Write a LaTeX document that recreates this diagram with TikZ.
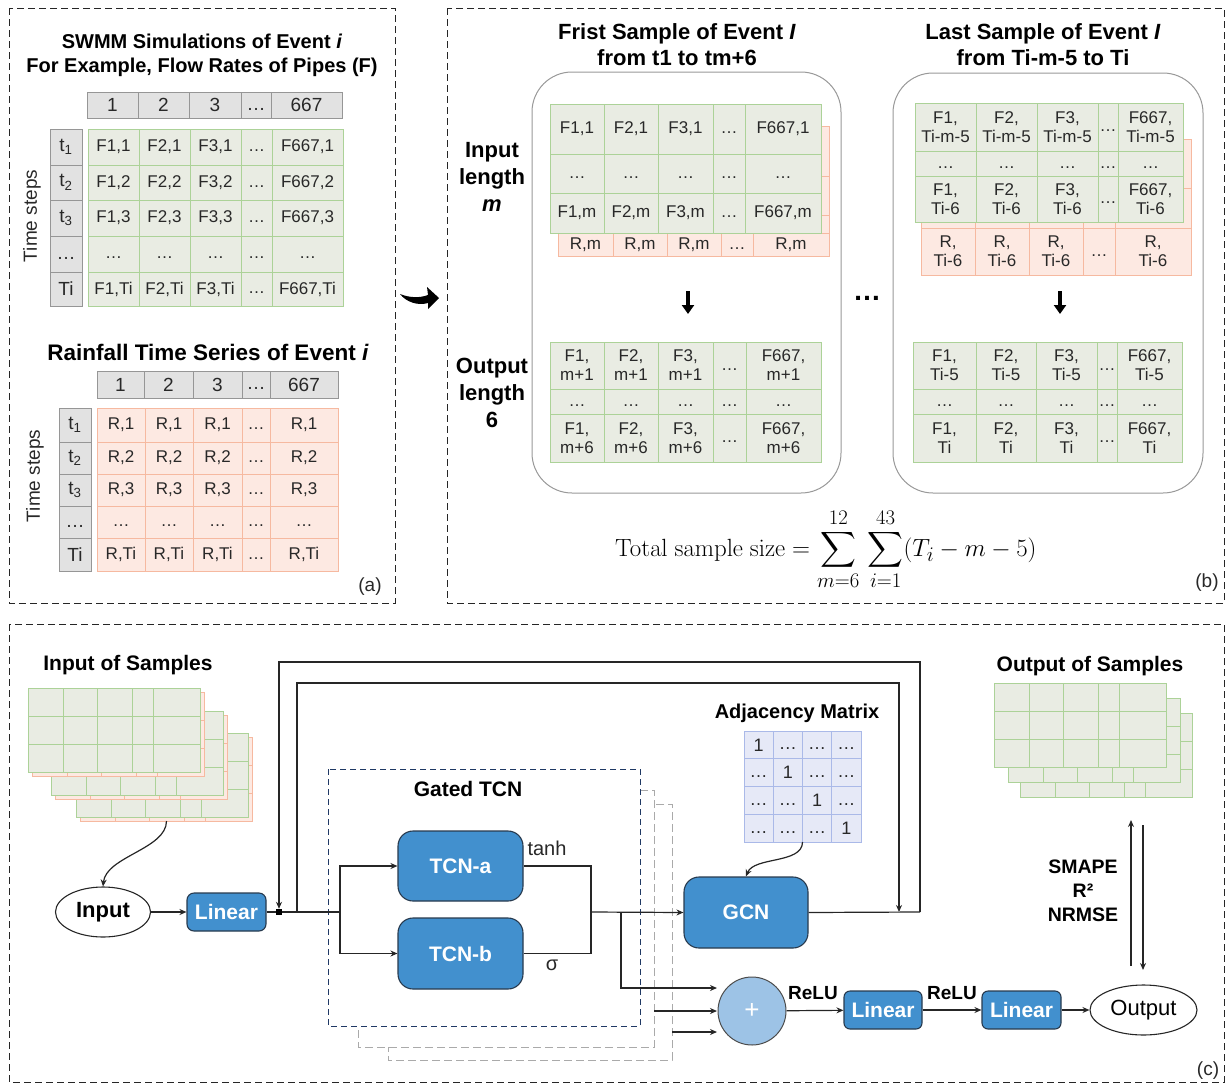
\documentclass[tikz,border=0pt]{standalone}
\usepackage{exscale}
\usepackage[no-math]{fontspec}
\setmainfont{Liberation Sans}
\usetikzlibrary{arrows.meta,shapes.geometric,calc}

\definecolor{gfill}{RGB}{233,236,227}
\definecolor{gbord}{RGB}{172,210,152}
\definecolor{rfill}{RGB}{253,233,226}
\definecolor{rbord}{RGB}{246,185,160}
\definecolor{hfill}{RGB}{226,226,226}
\definecolor{hbord}{RGB}{150,150,150}
\definecolor{bfill}{RGB}{66,144,206}
\definecolor{bbord}{RGB}{40,58,78}
\definecolor{pfill}{RGB}{157,195,230}
\definecolor{afill}{RGB}{230,233,247}
\definecolor{abord}{RGB}{170,185,232}
\definecolor{navy}{RGB}{31,56,100}
\definecolor{ghost}{RGB}{170,170,170}
\definecolor{txt}{RGB}{40,40,40}

\newcommand\fsz[2]{\fontsize{#1}{#2}\selectfont}
% ellipsis sitting on the text baseline
\newcommand\dd{\vphantom{F,}…}

% one row of table cells: name, style, top y, bottom y, list of xa/xb/text
\newcommand\cellrow[5]{%
  \foreach \xa/\xb/\tx [count=\ci] in {#5}{%
    \node[#2, anchor=north west, minimum width={(\xb-\xa)*1pt},
          minimum height={(#4-#3)*1pt}] (#1-\ci) at (\xa,#3) {\tx};
  }%
}
% one column of table cells: name, style, left x, right x, list of ya/yb/text
\newcommand\cellcol[5]{%
  \foreach \ya/\yb/\tx [count=\ri] in {#5}{%
    \node[#2, anchor=north west, minimum width={(#4-#3)*1pt},
          minimum height={(\yb-\ya)*1pt}] (#1-\ri) at (#3,\ya) {\tx};
  }%
}
% an empty 3x5 sample grid: name, style, x, y
\newcommand\stacktab[4]{%
  \foreach \dx/\w [count=\ci] in {0/35,35/34,69/35,104/21,125/47}{%
    \foreach \dy [count=\ri] in {0,28,56}{%
      \node[#2, anchor=north west, minimum width=\w, minimum height=28]
        (#1-\ri-\ci) at ({#3+\dx},{#4+\dy}) {};
    }}%
}

\tikzset{
  cellbase/.style={inner sep=0pt, outer sep=0pt, line width=0.9pt, align=center,
                   text=txt, font=\fsz{17}{19}},
  gcell/.style={cellbase, draw=gbord, fill=gfill},
  rcell/.style={cellbase, draw=rbord, fill=rfill},
  hcell/.style={cellbase, draw=hbord, fill=hfill, font=\fsz{19}{21}},
  acell/.style={cellbase, draw=abord, fill=afill, font=\fsz{18}{20}},
  blk/.style={draw=bbord, fill=bfill, line width=1.1pt, text=white,
              font=\bfseries\fsz{21}{24}, inner sep=0pt},
  ttl/.style={font=\bfseries\fsz{20}{24}, align=center, text=black},
  lbl/.style={font=\fsz{19}{22}, text=txt},
  conn/.style={line width=1.2pt, draw=black!85},
  arr/.style={conn, -{Stealth[length=7pt,width=6pt]}},
  panel/.style={draw=black!85, line width=1pt, dash pattern=on 7pt off 4pt},
  samplebox/.style={draw=black!40, line width=1pt, rounded corners=40pt, fill=white},
  gatebox/.style={draw=navy, line width=1pt, dash pattern=on 6pt off 4pt, fill=white},
  ghostbox/.style={draw=ghost, line width=1pt, dash pattern=on 8pt off 4pt, fill=white},
  fatarrow/.style={line width=3.5pt, -{Triangle[length=9pt,width=12pt]}},
}

\begin{document}
\begin{tikzpicture}[x=1pt,y=-1pt]
\useasboundingbox (0,0) rectangle (1229,1084);

%% ---------------- panel (a) ----------------
\draw[panel] (9,8) rectangle (395,603);
\node[ttl] (ta1) at (202,55) {SWMM Simulations of Event \textit{i}\\For Example, Flow Rates of Pipes (F)};

\cellrow{ah}{hcell}{92}{118}{87/138/1,138/189/2,189/241/3,241/271/\dd,271/342/667}
\cellcol{at}{hcell}{50}{82}{129/165/t\textsubscript{1},165/200/t\textsubscript{2},200/236/t\textsubscript{3},236/272/\dd,272/306/Ti}
\cellrow{af1}{gcell}{129}{165}{88/139/{F1,1},139/190/{F2,1},190/241/{F3,1},241/272/\dd,272/343/{F667,1}}
\cellrow{af2}{gcell}{165}{200}{88/139/{F1,2},139/190/{F2,2},190/241/{F3,2},241/272/\dd,272/343/{F667,2}}
\cellrow{af3}{gcell}{200}{236}{88/139/{F1,3},139/190/{F2,3},190/241/{F3,3},241/272/\dd,272/343/{F667,3}}
\cellrow{af4}{gcell}{236}{272}{88/139/\dd,139/190/\dd,190/241/\dd,241/272/\dd,272/343/\dd}
\cellrow{af5}{gcell}{272}{306}{88/139/{F1,Ti},139/190/{F2,Ti},190/241/{F3,Ti},241/272/\dd,272/343/{F667,Ti}}
\node[lbl, rotate=90] (tsa) at (32,216) {Time steps};

\node[ttl, font=\bfseries\fsz{22.5}{26}] (ta2) at (208,352) {Rainfall Time Series of Event \textit{i}};
\cellrow{bh}{hcell}{371}{398}{97/144/1,144/193/2,193/242/3,242/270/\dd,270/338/667}
\cellcol{bt}{hcell}{59}{91}{408/442/t\textsubscript{1},442/474/t\textsubscript{2},474/506/t\textsubscript{3},506/538/\dd,538/571/Ti}
\cellrow{ar1}{rcell}{408}{442}{97/145/{R,1},145/193/{R,1},193/242/{R,1},242/270/\dd,270/338/{R,1}}
\cellrow{ar2}{rcell}{442}{474}{97/145/{R,2},145/193/{R,2},193/242/{R,2},242/270/\dd,270/338/{R,2}}
\cellrow{ar3}{rcell}{474}{506}{97/145/{R,3},145/193/{R,3},193/242/{R,3},242/270/\dd,270/338/{R,3}}
\cellrow{ar4}{rcell}{506}{538}{97/145/\dd,145/193/\dd,193/242/\dd,242/270/\dd,270/338/\dd}
\cellrow{ar5}{rcell}{538}{571}{97/145/{R,Ti},145/193/{R,Ti},193/242/{R,Ti},242/270/\dd,270/338/{R,Ti}}
\node[lbl, rotate=90] (tsb) at (35,476) {Time steps};
\node[lbl] (la) at (370,587) {(a)};

% arrow from (a) to (b)
\fill[black] (400,294) .. controls (410,298) and (420,298) .. (428,295)
  -- (427,287) -- (439,298) -- (428,309) -- (428,303)
  .. controls (418,306) and (406,302) .. (400,294) -- cycle;

%% ---------------- panel (b) ----------------
\draw[panel] (447,8) rectangle (1224,603);

% first sample
\node[ttl, font=\bfseries\fsz{22}{26}] (tb1) at (677,45) {Frist Sample of Event \textit{I}\\from t1 to tm+6};
\draw[samplebox] (532,72) rectangle (841,493);
\node[ttl, font=\bfseries\fsz{22}{27}] (inlen) at (492,177) {Input\\length\\\textit{m}};
\node[ttl, font=\bfseries\fsz{22}{27}] (outlen) at (492,393) {Output\\length\\6};

\cellrow{s1r1}{rcell}{126}{176}{558/613/{},613/667/{},667/721/{},721/753/{},753/829/{}}
\cellrow{s1r2}{rcell}{176}{215}{558/613/{},613/667/{},667/721/{},721/753/{},753/829/{}}
\cellrow{s1r3}{rcell}{215}{233}{558/613/{},613/667/{},667/721/{},721/753/{},753/829/{}}
\cellrow{s1r4}{rcell}{233}{256}{558/613/{R,m},613/667/{R,m},667/721/{R,m},721/753/\dd,753/829/{R,m}}
\cellrow{s1g1}{gcell}{104}{154}{550/604/{F1,1},604/658/{F2,1},658/713/{F3,1},713/745/\dd,745/821/{F667,1}}
\cellrow{s1g2}{gcell}{154}{193}{550/604/\dd,604/658/\dd,658/713/\dd,713/745/\dd,745/821/\dd}
\cellrow{s1g3}{gcell}{193}{233}{550/604/{F1,m},604/658/{F2,m},658/713/{F3,m},713/745/\dd,745/821/{F667,m}}

\coordinate (d1a) at (688,291);
\coordinate (d1b) at (688,314);
\draw[fatarrow] (d1a) -- (d1b);

\cellrow{s1o1}{gcell}{342}{389}{550/604/{F1,\\m+1},604/658/{F2,\\m+1},658/713/{F3,\\m+1},713/746/\dd,746/821/{F667,\\m+1}}
\cellrow{s1o2}{gcell}{389}{414}{550/604/\dd,604/658/\dd,658/713/\dd,713/746/\dd,746/821/\dd}
\cellrow{s1o3}{gcell}{414}{462}{550/604/{F1,\\m+6},604/658/{F2,\\m+6},658/713/{F3,\\m+6},713/746/\dd,746/821/{F667,\\m+6}}

\node[font=\bfseries\fsz{28}{28}] (gapdots) at (867,298) {…};

% last sample
\node[ttl, font=\bfseries\fsz{22}{26}] (tb2) at (1043,45) {Last Sample of Event \textit{I}\\from Ti-m-5 to Ti};
\draw[samplebox] (893,73) rectangle (1203,493);

\cellrow{s2r1}{rcell}{139}{188}{921/975/{},975/1029/{},1029/1083/{},1083/1115/{},1115/1191/{}}
\cellrow{s2r2}{rcell}{188}{228}{921/975/{},975/1029/{},1029/1083/{},1083/1115/{},1115/1191/{}}
\cellrow{s2r3}{rcell}{228}{275}{921/975/{R,\\Ti-6},975/1029/{R,\\Ti-6},1029/1083/{R,\\Ti-6},1083/1115/\dd,1115/1191/{R,\\Ti-6}}
\cellrow{s2g1}{gcell}{103}{151}{915/976/{F1,\\Ti-m-5},976/1037/{F2,\\Ti-m-5},1037/1098/{F3,\\Ti-m-5},1098/1118/\dd,1118/1183/{F667,\\Ti-m-5}}
\cellrow{s2g2}{gcell}{151}{176}{915/976/\dd,976/1037/\dd,1037/1098/\dd,1098/1118/\dd,1118/1183/\dd}
\cellrow{s2g3}{gcell}{176}{222}{915/976/{F1,\\Ti-6},976/1037/{F2,\\Ti-6},1037/1098/{F3,\\Ti-6},1098/1118/\dd,1118/1183/{F667,\\Ti-6}}

\coordinate (d2a) at (1060,291);
\coordinate (d2b) at (1060,314);
\draw[fatarrow] (d2a) -- (d2b);

\cellrow{s2o1}{gcell}{342}{389}{913/976/{F1,\\Ti-5},976/1036/{F2,\\Ti-5},1036/1097/{F3,\\Ti-5},1097/1117/\dd,1117/1182/{F667,\\Ti-5}}
\cellrow{s2o2}{gcell}{389}{414}{913/976/\dd,976/1036/\dd,1036/1097/\dd,1097/1117/\dd,1117/1182/\dd}
\cellrow{s2o3}{gcell}{414}{462}{913/976/{F1,\\Ti},976/1036/{F2,\\Ti},1036/1097/{F3,\\Ti},1097/1117/\dd,1117/1182/{F667,\\Ti}}

\node[anchor=base west, inner sep=0pt, font=\fsz{24.88}{30}] (fml) at (615,556)
  {$\displaystyle\mathrm{Total\ sample\ size}=\sum_{m=6}^{12}\,\sum_{i=1}^{43}(T_i-m-5)$};
\node[lbl] (lb) at (1207,583) {(b)};

%% ---------------- panel (c) ----------------
\draw[panel] (9,624) rectangle (1224,1082);
\node[ttl, font=\bfseries\fsz{21}{24}] (tin) at (128,665) {Input of Samples};
\stacktab{ir3}{rcell}{80}{737}
\stacktab{ig3}{gcell}{76}{733}
\stacktab{ir2}{rcell}{55}{715}
\stacktab{ig2}{gcell}{51}{711}
\stacktab{ir1}{rcell}{32}{692}
\stacktab{ig1}{gcell}{28}{688}

\node[ttl, font=\bfseries\fsz{21}{24}] (tout) at (1090,666) {Output of Samples};
\stacktab{og3}{gcell}{1020}{713}
\stacktab{og2}{gcell}{1008}{698}
\stacktab{og1}{gcell}{994}{683}

% gated TCN block and its stacked copies
\draw[ghostbox] (388,804) rectangle (672,1060);
\draw[ghostbox] (358,790) rectangle (654,1047);
\draw[gatebox] (328,769) rectangle (640,1026);
\node[ttl, font=\bfseries\fsz{21}{24}] (tgate) at (468,789) {Gated TCN};

\node[ellipse, draw=black!85, line width=1.1pt, minimum width=95, minimum height=50,
      font=\bfseries\fsz{22}{24}] (in) at (103,912) {Input};
\node[blk, minimum width=79, minimum height=38, rounded corners=7pt] (lin1) at (226.5,912) {Linear};
\node[fill=black, inner sep=0pt, minimum size=6pt] (jn) at (279,912) {};
\node[blk, minimum width=125, minimum height=70, rounded corners=15pt] (tcna) at (460.5,866) {TCN-a};
\node[blk, minimum width=125, minimum height=71, rounded corners=15pt] (tcnb) at (460.5,953.5) {TCN-b};
\node[lbl, font=\fsz{20}{22}] (tanh) at (547,848) {tanh};
\node[lbl, font=\fsz{20}{22}] (sig) at (552,965) {σ};
\node[blk, minimum width=124, minimum height=71, rounded corners=15pt] (gcn) at (746,912.5) {GCN};

\node[ttl] (tadj) at (797,713) {Adjacency Matrix};
\foreach \rr in {1,...,4}{
  \foreach \cc in {1,...,4}{
    \node[acell, anchor=north west, minimum width=29.25, minimum height=27.75]
      (am-\rr-\cc) at ({744+(\cc-1)*29.25},{731+(\rr-1)*27.75})
      {\ifnum\rr=\cc\relax 1\else\dd\fi};
  }}

\node[circle, draw=black!70, fill=pfill, line width=1pt, minimum size=68,
      text=white, font=\fsz{26}{26}] (pl) at (752,1011) {+};
\node[blk, minimum width=78, minimum height=38, rounded corners=6pt] (lin2) at (883,1010) {Linear};
\node[blk, minimum width=79, minimum height=38, rounded corners=6pt] (lin3) at (1021.5,1010) {Linear};
\node[ellipse, draw=black!85, line width=1.1pt, minimum width=107, minimum height=50,
      font=\fsz{22}{24}] (out) at (1143.5,1010) {Output};
\node[ttl, font=\bfseries\fsz{19}{22}] (relu1) at (813,993) {ReLU};
\node[ttl, font=\bfseries\fsz{19}{22}] (relu2) at (952,993) {ReLU};
\node[ttl, font=\bfseries\fsz{19.5}{24}] (met) at (1083,891) {SMAPE\\R²\\NRMSE};
\node[lbl] (lc) at (1208,1071) {(c)};

% connectors
\coordinate (sp1) at (340,912);
\coordinate (mg) at (591,912);
\coordinate (sp2) at (621,912);
\coordinate (pin1) at (717,988);
\coordinate (g2) at (654,1011);
\coordinate (pin2) at (717,1011);
\coordinate (g3) at (672,1032);
\coordinate (pin3) at (717,1032);

\draw[arr] (ir3-3-3.south) .. controls +(0,28) and +(3,-30) .. (in.north);
\draw[arr] (in) -- (lin1);
\draw[conn] (lin1) -- (jn) -- (sp1);
\draw[arr] (sp1) |- (tcna.west);
\draw[arr] (sp1) |- (tcnb.west);
\draw[conn] (tcna.east) -| (mg);
\draw[conn] (tcnb.east) -| (mg);
\draw[arr] (mg) -- (gcn.west);
\draw[arr] (sp2) |- (pin1);
\draw[arr] (g2) -- (pin2);
\draw[arr] (g3) -- (pin3);
\draw[arr] (am-4-3.south west) .. controls +(0,22) and +(8,-20) .. (gcn.north);
\draw[arr] (pl) -- (lin2);
\draw[arr] (lin2) -- (lin3);
\draw[arr] (lin3) -- (out);

% skip connections around the layer
\coordinate (o1) at (920,912);
\coordinate (o2) at (920,662);
\coordinate (o3) at (279,662);
\draw[conn] (gcn.east) -- (o1);
\draw[arr] (o1) -- (o2) -- (o3) -- (jn.north);
\coordinate (i1) at (297,912);
\coordinate (i2) at (297,683);
\coordinate (i3) at (899,683);
\coordinate (i4) at (899,912);
\draw[arr] (i1) -- (i2) -- (i3) -- (i4);

% evaluation against the targets
\coordinate (ua) at (1131,966);
\coordinate (ub) at (1131,820);
\coordinate (da) at (1143,825);
\coordinate (db) at (1143,970);
\draw[arr] (ua) -- (ub);
\draw[arr] (da) -- (db);
\end{tikzpicture}
\end{document}
